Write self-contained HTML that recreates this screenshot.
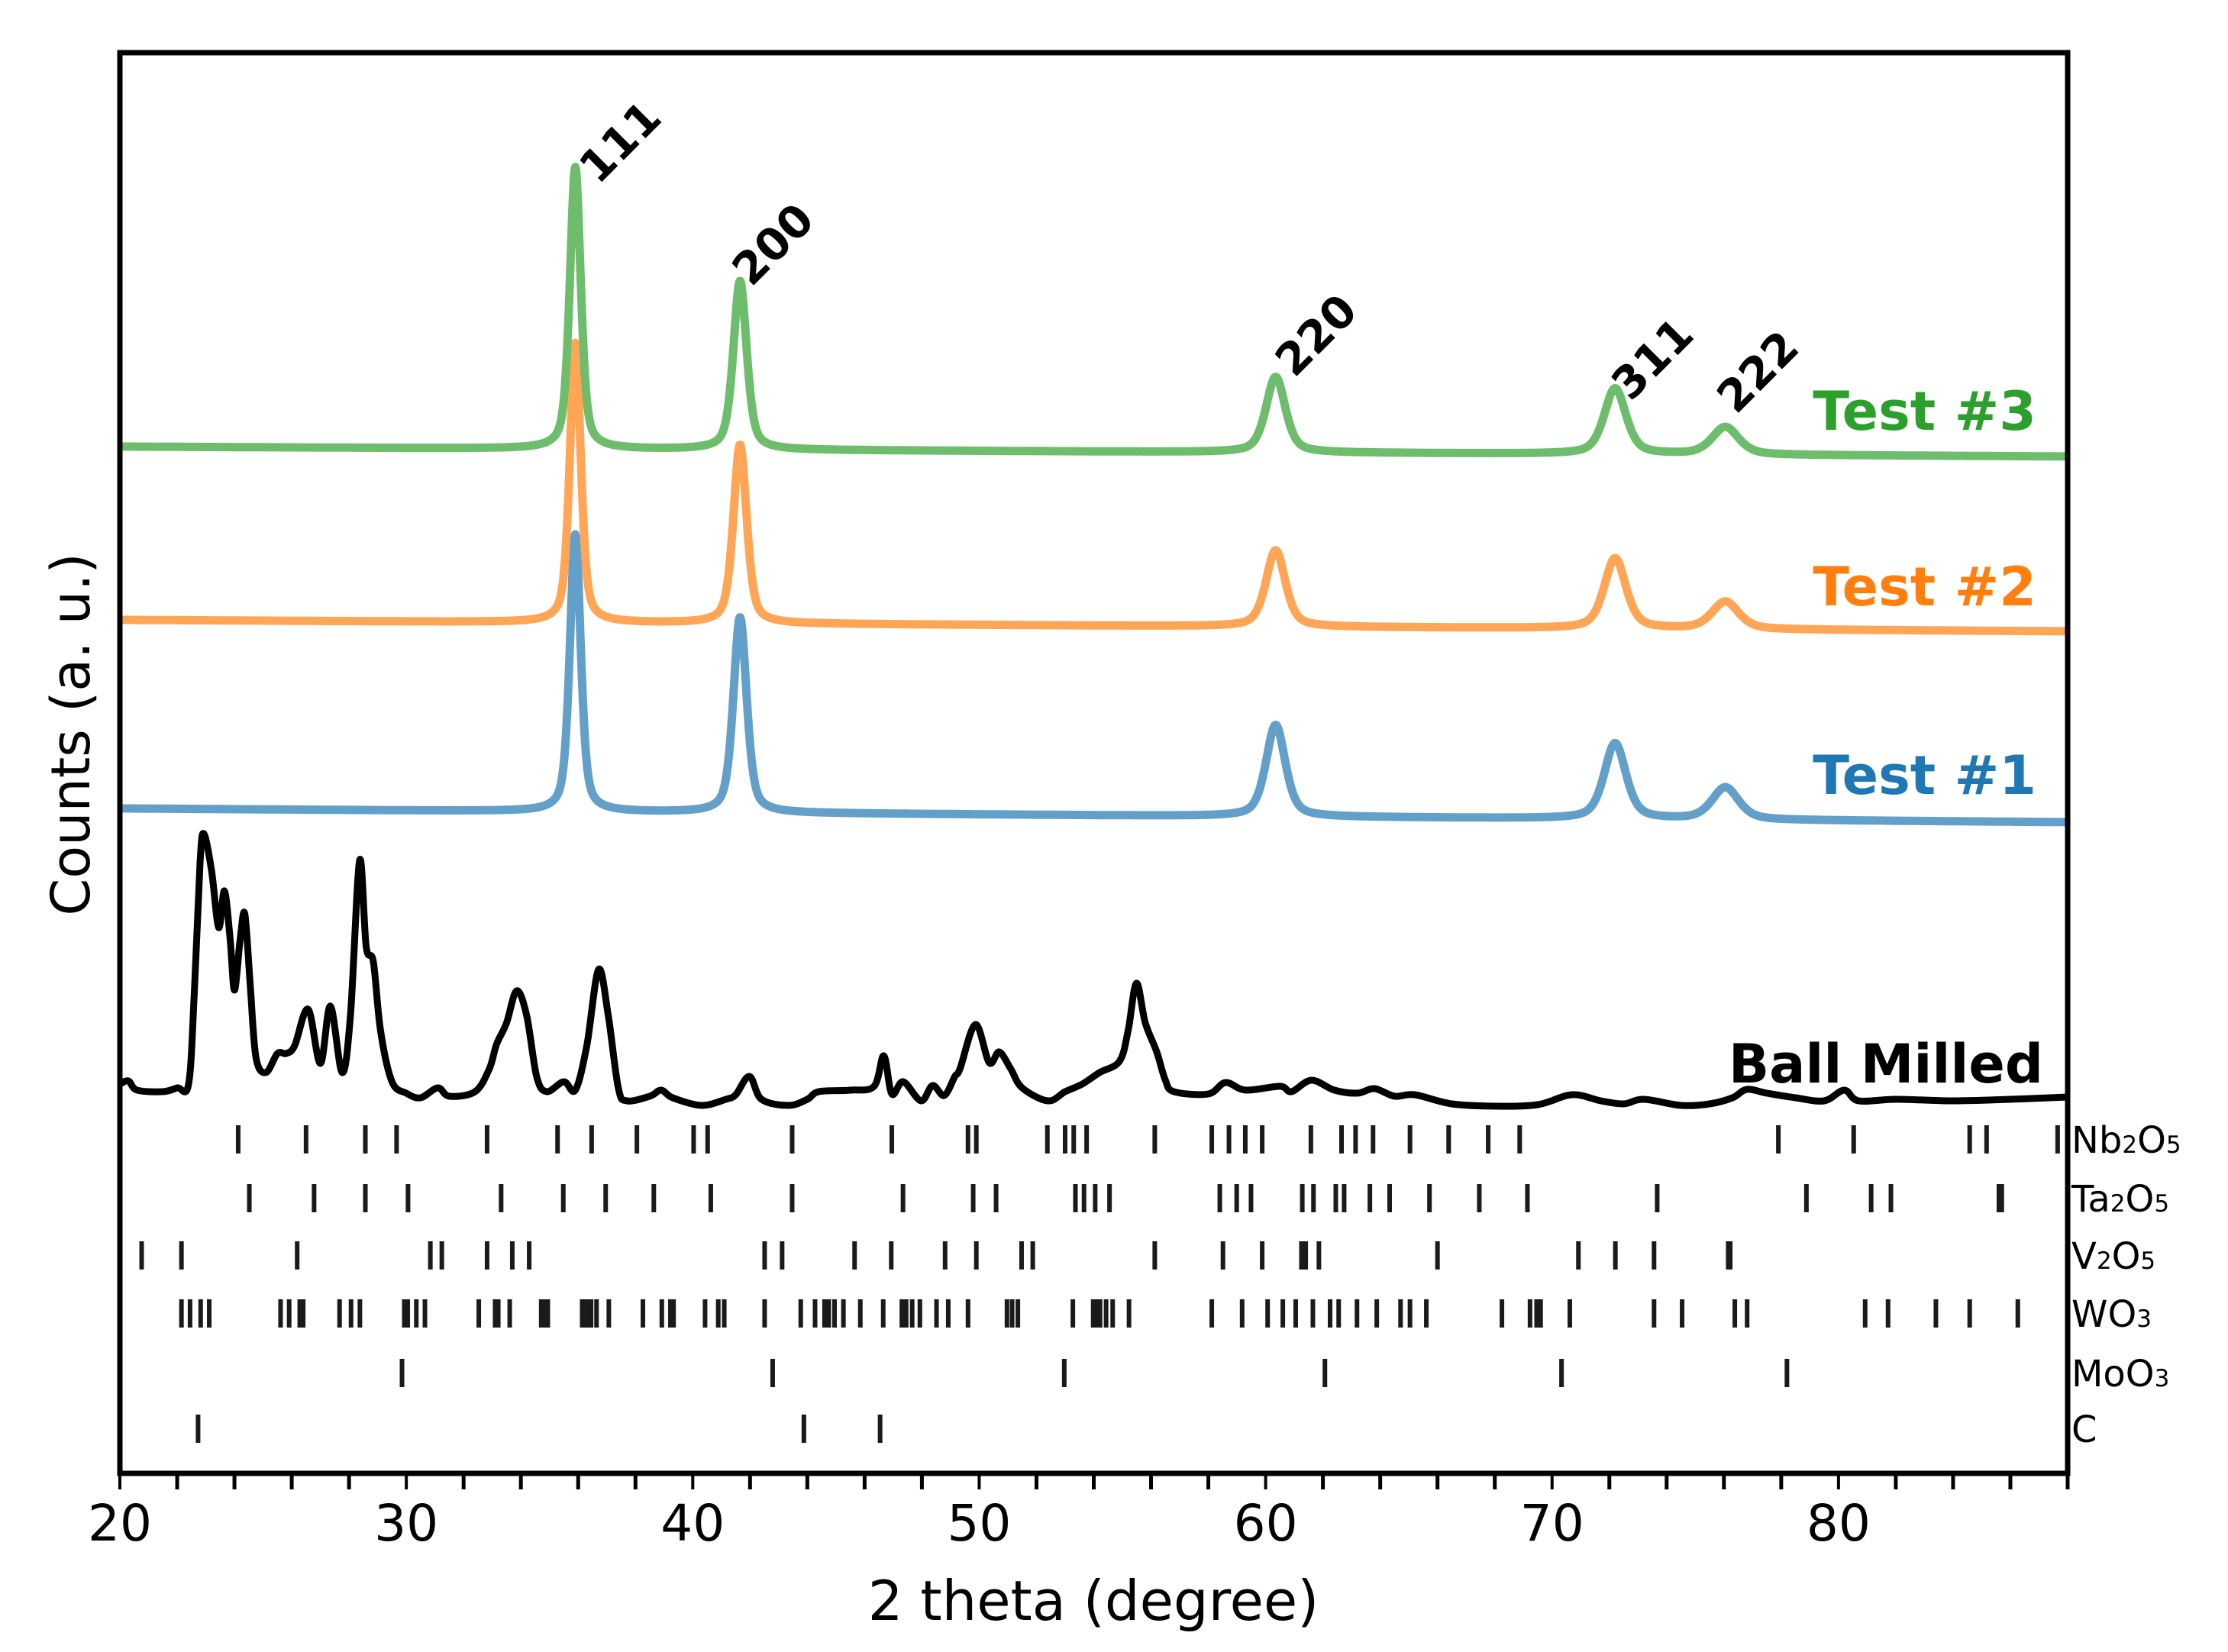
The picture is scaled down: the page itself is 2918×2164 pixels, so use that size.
<!DOCTYPE html>
<html><head><meta charset="utf-8"><style>
html,body{margin:0;padding:0;background:#fff;}
svg{display:block;}
text{font-family:"DejaVu Sans","Liberation Sans",sans-serif;}
</style></head><body>
<svg id="chart" width="2918" height="2164" viewBox="0 0 2918 2164" xmlns="http://www.w3.org/2000/svg">
<rect width="2918" height="2164" fill="#fff"/>
<g id="phase-ticks"></g>
<g id="series"></g>
<g id="labels"></g>
<rect x="157" y="69" width="2551" height="1861" fill="none" stroke="#000" stroke-width="7"/>
<g id="xaxis"></g>
<text x="1432" y="2122" font-size="72" text-anchor="middle">2 theta (degree)</text>
<text x="0" y="0" font-size="70" text-anchor="middle" transform="translate(117,962) rotate(-90)">Counts (a. u.)</text>
</svg>
<script>
// ---- data ----
const xMin = 20, xMax = 88;
const xTicks = [20,30,40,50,60,70,80];
const peakPos = [35.9, 41.65, 60.35, 72.2, 76.05];
const peakWidth = [0.45, 0.55, 0.8, 0.9, 1.1];
const hkl = ["111","200","220","311","222"];
const test1Heights = [36.3, 25.6, 12.0, 9.9, 4.2];
const test2Heights = [36.6, 23.4, 10.0, 9.2, 3.6];
const test3Heights = [36.9, 22.1, 9.9, 8.6, 3.6];
const test1Base = [87.9, 86.1];
const test2Base = [112.6, 111.1];
const test3Base = [135.3, 134.0];
const hklLabelX = [36.7, 42.04, 61.0, 72.74, 76.42];
const hklLabelY = [169.5, 156.1, 144.2, 141.1, 139.4];
const bmX = [20.0,20.3,20.6,21.5,22.0,22.4,22.6,22.8,22.93,23.2,23.45,23.65,23.85,24.0,24.2,24.36,24.55,24.75,25.1,25.5,25.8,26.1,26.57,27.0,27.35,27.76,28.05,28.37,28.6,28.85,29.1,29.5,30.0,30.5,31.1,31.5,32.4,32.9,33.15,33.5,33.85,34.2,34.55,34.9,35.5,35.9,36.3,36.71,37.05,37.4,37.7,38.5,38.9,39.3,40.3,41.16,41.5,41.98,42.4,43.34,44.0,44.4,45.5,46.33,46.67,46.95,47.35,47.97,48.37,48.78,49.15,49.33,49.87,50.35,50.7,51.1,51.5,52.4,53.0,53.6,54.2,54.9,55.2,55.49,55.8,56.2,56.5,56.8,58.0,58.6,59.3,60.5,60.9,61.6,62.4,63.2,63.8,64.5,65.2,66.5,68.0,69.5,70.7,71.7,72.5,73.2,74.5,75.5,76.3,76.8,77.5,78.5,79.5,80.2,80.7,82,84,86,88];
const bmY = [51.8,52.2,51.0,50.8,51.3,51.8,63.8,80.8,84.6,79.8,72.3,77.1,70.8,64.1,70.8,74.1,64.8,55.3,53.3,55.8,55.8,56.8,61.6,54.5,62.0,53.3,60.8,81.1,69.8,67.8,58.8,52.1,50.6,50.0,51.3,50.2,50.8,53.8,57.0,59.8,64.0,60.8,52.8,50.8,52.1,51.0,56.8,66.8,60.8,51.3,49.6,50.2,51.0,50.0,49.0,49.8,50.4,52.8,49.8,49.0,49.8,50.8,51.0,51.5,55.5,50.5,52.1,49.6,51.6,50.3,52.8,53.8,59.6,54.6,56.0,53.8,51.3,49.6,50.8,51.8,53.3,54.8,58.8,65.0,59.8,56.0,52.3,50.8,50.5,52.0,51.0,51.5,50.8,52.3,51.0,50.6,51.2,50.2,50.4,49.2,48.9,49.1,50.4,49.6,49.2,49.8,49.0,49.2,50.0,51.1,50.6,50.0,49.6,51.0,49.6,49.8,49.6,49.8,50.1];
const phaseNames = ["Nb2O5","Ta2O5","V2O5","WO3","MoO3","C"];
const nb2o5 = [24.13,26.50,28.57,29.66,32.82,35.28,36.47,38.05,40.03,40.52,43.47,46.95,49.61,49.90,52.38,53.0,53.3,53.75,56.13,58.12,58.72,59.29,59.88,61.58,62.65,63.14,63.75,65.04,66.39,67.77,68.87,77.9,80.53,84.58,85.17,87.65];
const ta2o5 = [24.52,26.78,28.57,30.06,33.31,35.48,36.96,38.64,40.63,43.47,47.34,49.79,50.59,53.36,53.66,54.05,54.55,58.40,58.99,59.49,61.28,61.67,62.45,62.74,63.64,64.33,65.72,67.46,69.14,73.67,78.88,81.14,81.83,85.6,85.7];
const v2o5 = [20.76,22.15,26.19,30.84,31.24,32.82,33.70,34.29,42.51,43.12,45.65,46.93,48.81,49.90,51.48,51.87,56.13,58.51,59.88,61.25,61.4,61.86,66.0,70.92,72.21,73.56,76.15,76.22];
const wo3 = [22.15,22.45,22.82,23.12,25.61,25.91,26.28,26.40,27.67,28.07,28.38,29.93,30.05,30.35,30.65,32.53,33.10,33.21,33.61,34.71,34.85,34.94,36.14,36.3,36.45,36.64,37.07,38.26,38.92,39.22,39.33,40.43,40.89,41.1,42.51,43.77,44.27,44.6,44.75,44.95,45.26,45.85,46.65,47.3,47.45,47.66,47.93,48.51,48.92,49.61,50.97,51.15,51.35,53.27,53.98,54.1,54.22,54.43,54.66,55.23,58.12,59.18,60.07,60.60,61.05,61.65,62.25,62.55,63.19,63.88,64.71,65.04,65.61,68.25,69.23,69.46,69.60,70.62,73.56,74.54,76.38,76.81,80.93,81.73,83.40,84.58,86.26];
const moo3 = [29.85,42.79,52.97,62.07,70.33,78.20];
const carbon = [22.73,43.88,46.54];

// ---- scales ----
const L = 157, R = 2708;
function xs(v){ return L + (v - xMin) / (xMax - xMin) * (R - L); }
function ys(v){ return 1938 - v * 10; }
const NS = "http://www.w3.org/2000/svg";
function mk(tag, attrs, parent){ const e = document.createElementNS(NS, tag); for (const k in attrs) e.setAttribute(k, attrs[k]); parent.appendChild(e); return e; }

// x axis ticks
const xg = document.getElementById('xaxis');
for (let v = xMin; v <= xMax; v += 2) {
  const major = xTicks.indexOf(v) >= 0;
  const t = mk('line', {x1: xs(v), x2: xs(v), y1: 1930, y2: 1951, stroke: '#000', 'stroke-width': major ? 4 : 5}, xg);
  
  
}
xTicks.forEach(v => {
  const t = mk('text', {x: xs(v), y: 2018, 'font-size': 66, 'text-anchor': 'middle'}, xg);
  t.textContent = v;
  
  
});

// test series
function pv(x, c, w){ const d = (x - c) / (w / 2); return 0.5 / (1 + d * d) + 0.5 * Math.exp(-Math.LN2 * d * d); }
function testPath(heights, base){
  let d = '';
  for (let x = xMin; x <= xMax + 1e-9; x += 0.02) {
    let v = base[0] + (base[1] - base[0]) * (x - xMin) / (xMax - xMin);
    for (let i = 0; i < peakPos.length; i++) v += heights[i] * pv(x, peakPos[i], peakWidth[i]);
    d += (d ? 'L' : 'M') + xs(x).toFixed(1) + ',' + ys(v).toFixed(1);
  }
  return d;
}
const sg = document.getElementById('series');
(function(){
  const P = bmX.map((x, i) => [xs(x), ys(bmY[i])]);
  let d = 'M' + P[0][0] + ',' + P[0][1];
  for (let i = 0; i < P.length - 1; i++) {
    const p0 = P[Math.max(0, i - 1)], p1 = P[i], p2 = P[i + 1], p3 = P[Math.min(P.length - 1, i + 2)];
    const c1 = [p1[0] + (p2[0] - p0[0]) / 6, p1[1] + (p2[1] - p0[1]) / 6];
    const c2 = [p2[0] - (p3[0] - p1[0]) / 6, p2[1] - (p3[1] - p1[1]) / 6];
    d += 'C' + c1[0].toFixed(1) + ',' + c1[1].toFixed(1) + ' ' + c2[0].toFixed(1) + ',' + c2[1].toFixed(1) + ' ' + p2[0].toFixed(1) + ',' + p2[1].toFixed(1);
  }
  const p = mk('path', {d: d, fill: 'none', stroke: '#000', 'stroke-width': 9, 'stroke-linejoin': 'round'}, sg);
  
  
})();
const p1 = mk('path', {d: testPath(test1Heights, test1Base), fill: 'none', stroke: '#62a0ca', 'stroke-width': 11, 'stroke-linejoin': 'round'}, sg);


const p2 = mk('path', {d: testPath(test2Heights, test2Base), fill: 'none', stroke: '#ffa556', 'stroke-width': 11, 'stroke-linejoin': 'round'}, sg);


const p3 = mk('path', {d: testPath(test3Heights, test3Base), fill: 'none', stroke: '#6dbd6d', 'stroke-width': 11, 'stroke-linejoin': 'round'}, sg);



// labels
const lg = document.getElementById('labels');
hkl.forEach((s, i) => {
  const x = xs(hklLabelX[i]), y = ys(hklLabelY[i]);
  const t = mk('text', {x: 0, y: 0, 'font-size': 58, 'font-weight': 'bold', transform: 'translate(' + x + ',' + y + ') rotate(-45)'}, lg);
  t.textContent = s;
  
  
});
const seriesLabels = [["Test #3", '#2ca02c', 563], ["Test #2", '#ff7f0e', 793], ["Test #1", '#1f77b4', 1040], ["Ball Milled", '#000', 1418]];
seriesLabels.forEach((s, i) => {
  const t = mk('text', {x: i < 3 ? 2667 : 2676, y: s[2], 'font-size': 70, 'font-weight': 'bold', 'text-anchor': 'end', fill: s[1]}, lg);
  t.textContent = s[0];
  
  
});

// phase reference ticks
const pg = document.getElementById('phase-ticks');
const phaseData = [nb2o5, ta2o5, v2o5, wo3, moo3, carbon];
const rowTop = [1474, 1551, 1626, 1702, 1780, 1853];
phaseData.forEach((arr, r) => {
  arr.forEach(v => {
    const t = mk('line', {x1: xs(v), x2: xs(v), y1: rowTop[r], y2: rowTop[r] + 37, stroke: '#1a1a1a', 'stroke-width': 6}, pg);
    
    
  });
  const t = mk('text', {x: 2713, y: rowTop[r] + 36, 'font-size': 48}, pg);
  
  
  const name = phaseNames[r];
  for (const ch of name) {
    const sp = mk('tspan', {}, t);
    if (/[0-9]/.test(ch)) sp.setAttribute('font-size', 31);
    sp.textContent = ch;
  }
});
</script>
</body></html>
